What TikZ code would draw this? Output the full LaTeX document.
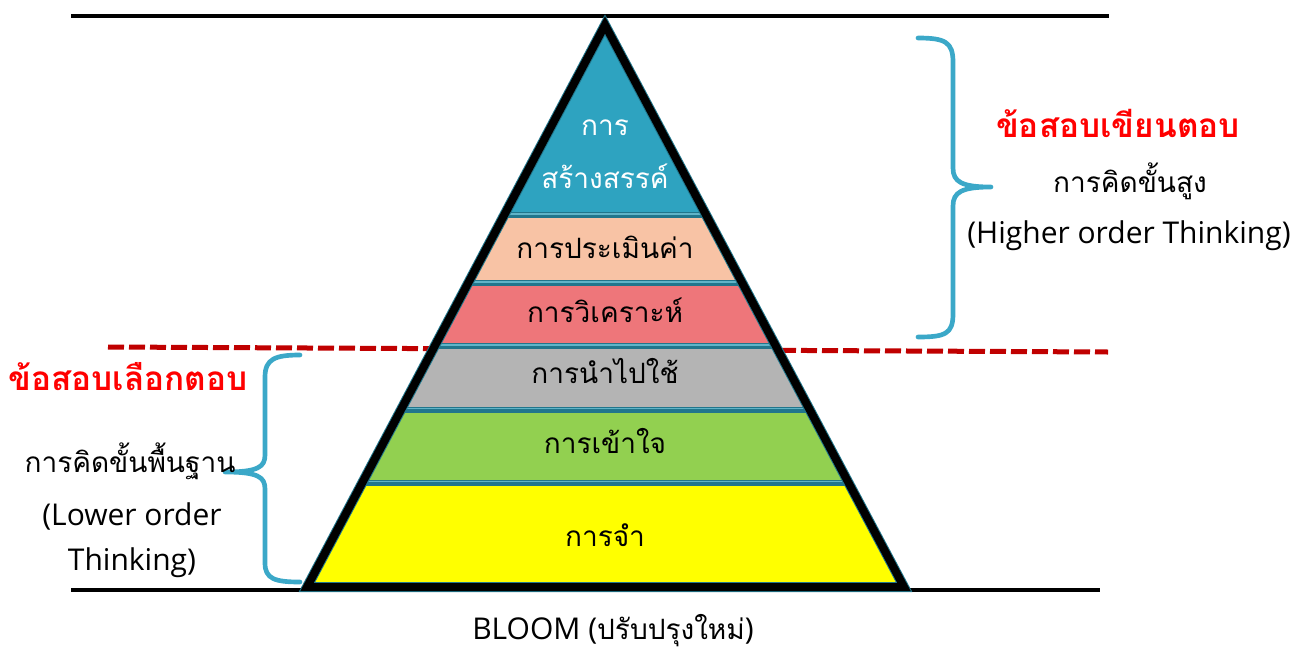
\documentclass[tikz,border=0pt]{standalone}
\usepackage{fontspec}
\setmainfont[Script=Thai]{Loma}
\newfontfamily\latinfont{Open Sans}
\usepackage{tikz}
\tikzset{every picture/.style={line width=0.75pt}}

\definecolor{tealtop}{RGB}{46,163,192}
\definecolor{tealsep}{RGB}{33,118,140}
\definecolor{teallight}{RGB}{96,180,200}
\definecolor{peach}{RGB}{248,195,165}
\definecolor{pinkred}{RGB}{238,118,122}
\definecolor{midgray}{RGB}{180,180,180}
\definecolor{leafgreen}{RGB}{146,208,80}
\definecolor{brightyellow}{RGB}{255,255,0}
\definecolor{bracecol}{RGB}{59,168,200}
\definecolor{txtred}{RGB}{255,0,0}
\definecolor{dashred}{RGB}{192,0,0}

\begin{document}
\begin{tikzpicture}[x=0.75pt,y=0.75pt,yscale=-1,xscale=1,
  lbl/.style={anchor=base,inner sep=0.75pt,font=\fontsize{21}{25}\selectfont},
  latlbl/.style={anchor=base,inner sep=0.75pt,font=\fontsize{22.5}{27}\latinfont},
  redlbl/.style={anchor=base,inner sep=0.75pt,font=\fontsize{25}{29}\selectfont\bfseries,color=txtred},
  bracestyle/.style={color=bracecol,line width=3.5pt,line cap=round,line join=round},
  sepline/.style={color=tealsep,line width=4.5pt}]
\useasboundingbox (0,0) rectangle (1307,650);

%Straight Lines
\draw [line width=3.5pt]   (71,16) -- (1109,16) ;
%Straight Lines
\draw [line width=3.5pt]   (71,590) -- (1100,590) ;
%Straight Lines
\draw [color=dashred, line width=3.75pt, dash pattern=on 12pt off 3.75pt]   (108,347) -- (1108,352) ;

%Shape: Triangle (bands)
\begin{scope}
\clip (605,25) -- (904,587) -- (307,587) -- cycle ;
\fill [tealtop] (250,0) rectangle (960,215) ;
\fill [peach] (250,215) rectangle (960,283) ;
\fill [pinkred] (250,283) rectangle (960,346) ;
\fill [midgray] (250,346) rectangle (960,409.5) ;
\fill [leafgreen] (250,409.5) rectangle (960,482.5) ;
\fill [brightyellow] (250,482.5) rectangle (960,600) ;
\foreach \y in {215,283,346,409.5,482.5} {
  \draw [sepline] (250,\y) -- (960,\y) ;
  \draw [color=teallight, line width=1pt] (250,\y-1) -- (960,\y-1) ;
}
\end{scope}
%Shape: Triangle (outline)
\draw [color=tealsep, line width=7.5pt, line join=miter]  (605,25) -- (904,587) -- (307,587) -- cycle ;
\draw [line width=6pt, line join=miter]  (605,25) -- (904,587) -- (307,587) -- cycle ;

%Curve Lines
\draw [bracestyle]  (918,38) .. controls (945,38) and (953,42) .. (953,62) -- (953,168) .. controls (953,182) and (962,187) .. (991,187) .. controls (962,187) and (953,192) .. (953,206) -- (953,314) .. controls (953,334) and (945,337) .. (918,337) ;
%Curve Lines
\draw [bracestyle]  (300,355) .. controls (275,355) and (265,359) .. (265,377) -- (265,455) .. controls (265,467) and (258,472) .. (225,472) .. controls (258,472) and (265,477) .. (265,489) -- (265,563) .. controls (265,579) and (275,582) .. (300,582) ;

\draw (605,135) node (createA) [lbl, color=white] {การ};
\draw (605,188) node (createB) [lbl, color=white] {สร้างสรรค์};
\draw (605,258) node (evaluate) [lbl] {การประเมินค่า};
\draw (605,322) node (analyse) [lbl] {การวิเคราะห์};
\draw (605,383) node (apply) [lbl] {การนำไปใช้};
\draw (605,453) node (understand) [lbl] {การเข้าใจ};
\draw (605,546) node (remember) [lbl] {การจำ};

\draw (1118,137) node (writtenexam) [redlbl] {ข้อสอบเขียนตอบ};
\draw (1130,192) node (higherTh) [lbl] {การคิดขั้นสูง};
\draw (1129,243) node (higherEn) [latlbl] {(Higher order Thinking)};

\draw (128,390) node (choiceexam) [redlbl] {ข้อสอบเลือกตอบ};
\draw (130,472) node (lowerTh) [lbl] {การคิดขั้นพื้นฐาน};
\draw (132,525) node (lowerEnA) [latlbl] {(Lower order};
\draw (132,570) node (lowerEnB) [latlbl] {Thinking)};

\draw (613,639) node (bloom) [lbl] {{\latinfont\fontsize{22.5}{27}\selectfont BLOOM (}ปรับปรุงใหม่{\latinfont\fontsize{22.5}{27}\selectfont )}};
\end{tikzpicture}
\end{document}
